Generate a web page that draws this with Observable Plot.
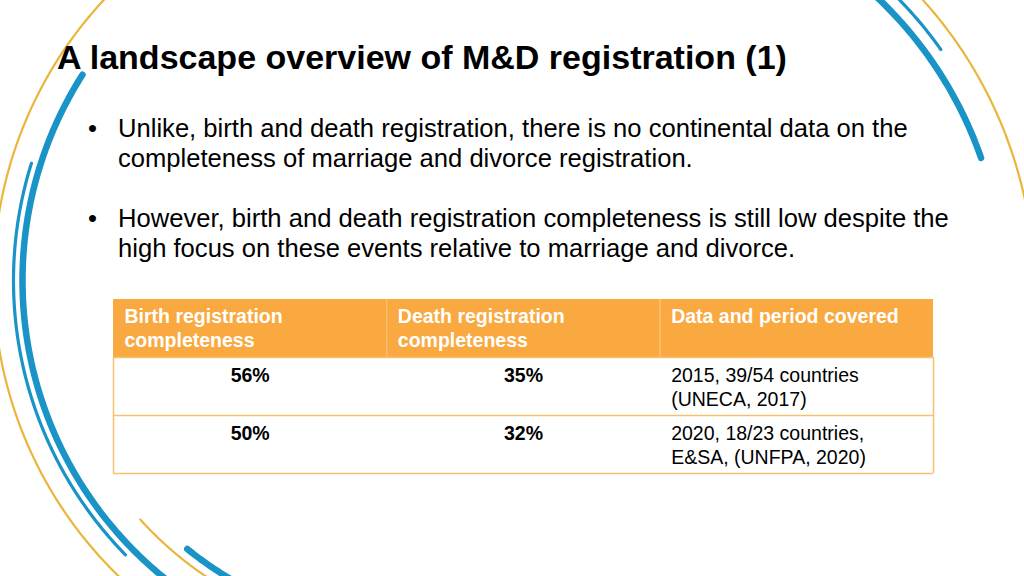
<!DOCTYPE html>
<html>
<head>
<meta charset="utf-8">
<script src="https://cdn.jsdelivr.net/npm/d3@7"></script>
<script src="https://cdn.jsdelivr.net/npm/@observablehq/plot@0.6"></script>
<style>
  body { margin: 0; background: #fff; }
  #slide { position: relative; width: 1024px; height: 576px; overflow: hidden; background: #fff;
           font-family: "Liberation Sans", Arial, Helvetica, sans-serif; color: #000; }
  #bg { position: absolute; left: 0; top: 0; }
  #title { position: absolute; left: 57px; top: 39.8px; font-size: 34px; line-height: 34px;
           font-weight: bold; white-space: nowrap; }
  .bullet { position: absolute; left: 118px; font-size: 25.6px; line-height: 30px; white-space: nowrap; }
  .bullet .dot { position: absolute; left: -30px; top: 0; }
  #table { position: absolute; left: 111px; top: 297px; }
</style>
</head>
<body>
<div id="slide">
  <div id="bg"></div>
  <div id="title"></div>
  <div id="b1" class="bullet"></div>
  <div id="b2" class="bullet"></div>
  <div id="table"></div>
</div>
<script>
// ---- text content ----
const titleText = "A landscape overview of M&D registration (1)";
const bulletLines = [
  ["Unlike, birth and death registration, there is no continental data on the",
   "completeness of marriage and divorce registration."],
  ["However, birth and death registration completeness is still low despite the",
   "high focus on these events relative to marriage and divorce."]
];

// ---- table data ----
const columns = ["Birth registration\ncompleteness", "Death registration\ncompleteness", "Data and period covered"];
const birthCompleteness = ["56%", "50%"];
const deathCompleteness = ["35%", "32%"];
const periodCovered = ["2015, 39/54 countries\n(UNECA, 2017)", "2020, 18/23 countries,\nE&SA, (UNFPA, 2020)"];

// ---- decorative arcs (centre, radius, start/end angle in degrees) ----
const arcs = [
  {cx: 405, cy: 280, r: 412, a0: 128,   a1: 228,   color: "#e9b63b", width: 2.2},
  {cx: 405, cy: 280, r: 392, a0: 135.6, a1: 197.4, color: "#1a93c6", width: 3.2},
  {cx: 405, cy: 280, r: 383, a0: 126,   a1: 212.5, color: "#1a93c6", width: 6.5},
  {cx: 405, cy: 280, r: 357, a0: 118,   a1: 138,   color: "#e9b63b", width: 2.2},
  {cx: 405, cy: 280, r: 346, a0: 116,   a1: 129.1, color: "#1a93c6", width: 6.5},
  {cx: 600, cy: 290, r: 403, a0: -50,   a1: -19.2, color: "#1a93c6", width: 6.5},
  {cx: 600, cy: 290, r: 417, a0: -50,   a1: -35.3, color: "#1a93c6", width: 3.2},
  {cx: 600, cy: 290, r: 434, a0: -48,   a1: -8,    color: "#e9b63b", width: 2.2}
];

// title and bullets
document.getElementById("title").textContent = titleText;
const tops = [112.8, 202.8];
bulletLines.forEach((lines, k) => {
  const el = document.getElementById("b" + (k + 1));
  el.style.top = tops[k] + "px";
  const dot = document.createElement("span");
  dot.className = "dot";
  dot.textContent = "\u2022";
  el.appendChild(dot);
  lines.forEach((l, j) => {
    if (j) el.appendChild(document.createElement("br"));
    el.appendChild(document.createTextNode(l));
  });
});

// background arcs
function arcPoints(a) {
  const n = Math.ceil(Math.abs(a.a1 - a.a0) * 2);
  return d3.range(n + 1).map(i => {
    const t = (a.a0 + (a.a1 - a.a0) * i / n) * Math.PI / 180;
    return {x: a.cx + a.r * Math.cos(t), y: a.cy + a.r * Math.sin(t)};
  });
}
const bg = Plot.plot({
  width: 1024, height: 576, margin: 0,
  style: {background: "transparent"},
  x: {domain: [0, 1024], range: [0, 1024], axis: null},
  y: {domain: [0, 576], range: [0, 576], axis: null},
  marks: arcs.map(a => Plot.line(arcPoints(a), {
    x: "x", y: "y", stroke: a.color, strokeWidth: a.width, strokeLinecap: "round", clip: true
  }))
});
document.getElementById("bg").appendChild(bg);

// table
const rows = birthCompleteness.map((b, i) => ({
  row: i + 1, birth: b, death: deathCompleteness[i], period: periodCovered[i]
}));
const headerCells = columns.map((c, i) => ({col: i, label: c}));
const fs = 19.5, lh = 24 / 19.5;
const border = "#f6c071";
const table = Plot.plot({
  width: 824, height: 178,
  marginLeft: 2, marginRight: 2, marginTop: 2, marginBottom: 2,
  style: {background: "transparent", fontFamily: "'Liberation Sans', Arial, sans-serif"},
  x: {domain: [0, 3], range: [2, 822], axis: null},
  y: {domain: [0, 3], range: [2, 176], axis: null},
  marks: [
    Plot.rect(headerCells, {x1: "col", x2: d => d.col + 1, y1: 0, y2: 1, fill: "#f9a940"}),
    Plot.ruleX([1, 2], {y1: 0, y2: 1, stroke: "#fbc07a", strokeWidth: 1}),
    Plot.ruleY([1, 2, 3], {x1: 0, x2: 3, stroke: border, strokeWidth: 1.5}),
    Plot.ruleX([0, 3], {y1: 1, y2: 3, stroke: border, strokeWidth: 1.5}),
    Plot.text(headerCells, {x: "col", y: 0, text: "label", dx: 11, dy: 6,
      textAnchor: "start", lineAnchor: "top", lineHeight: lh,
      fill: "white", fontWeight: "bold", fontSize: fs}),
    Plot.text(rows, {x: 0.5, y: "row", text: "birth", dy: 7, textAnchor: "middle", lineAnchor: "top",
      lineHeight: lh, fontWeight: "bold", fontSize: fs, fill: "black"}),
    Plot.text(rows, {x: 1.5, y: "row", text: "death", dy: 7, textAnchor: "middle", lineAnchor: "top",
      lineHeight: lh, fontWeight: "bold", fontSize: fs, fill: "black"}),
    Plot.text(rows, {x: 2, y: "row", text: "period", dx: 11, dy: 7, textAnchor: "start", lineAnchor: "top",
      lineHeight: lh, fontSize: fs, fill: "black"})
  ]
});
document.getElementById("table").appendChild(table);
</script>
</body>
</html>
